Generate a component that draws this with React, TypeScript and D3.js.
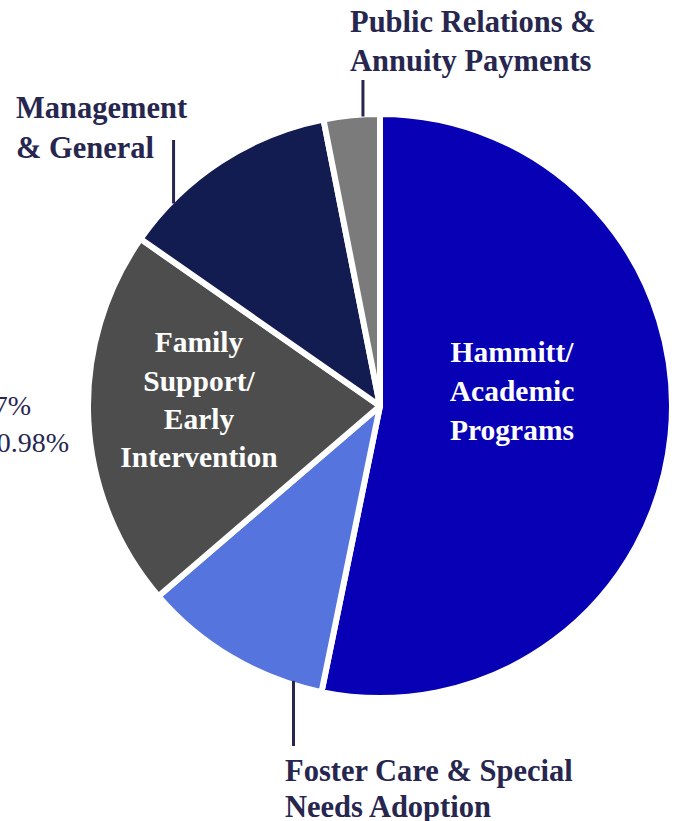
import * as d3 from 'd3';
import React from 'react';

const width = 680;
const height = 821;
const cx = 380;
const cy = 406;
const radius = 292;

// share of expenses, clockwise from 12 o'clock
const categories = [
  'Hammitt/Academic Programs',
  'Foster Care & Special Needs Adoption',
  'Family Support/Early Intervention',
  'Management & General',
  'Public Relations & Annuity Payments',
];
const values = [53.2, 10.5, 20.98, 12.2, 3.1];
const colors = ['#0800b4', '#5574dd', '#4d4d4d', '#121c50', '#7b7b7b'];

const navy = '#26264f';
const font = '"Liberation Serif", "DejaVu Serif", serif';

export default function App() {
  const pie = d3
    .pie<number>()
    .sort(null)
    .value(d => d);
  const arcs = pie(values);
  const arc = d3.arc<d3.PieArcDatum<number>>().innerRadius(0).outerRadius(radius);

  // point on the rim at a fraction of slice i
  const rim = (i: number, f: number) => {
    const a = arcs[i].startAngle + (arcs[i].endAngle - arcs[i].startAngle) * f;
    return [cx + radius * Math.sin(a), cy - radius * Math.cos(a)];
  };
  const pr = rim(4, 0.7);
  const mg = rim(3, 0.23);
  const fc = rim(1, 0.15);

  return (
    <svg width={width} height={height} style={{ position: 'absolute', left: 0, top: 0 }}>
      <g transform={`translate(${cx},${cy})`}>
        {arcs.map((a, i) => (
          <path key={categories[i]} d={arc(a) || ''} fill={colors[i]} stroke="#fff" strokeWidth={6} strokeLinejoin="round" />
        ))}
      </g>

      {/* leader lines */}
      <line x1={pr[0]} x2={pr[0]} y1={80} y2={pr[1] + 2} stroke={navy} strokeWidth={3} />
      <line x1={mg[0]} x2={mg[0]} y1={140} y2={mg[1] + 4} stroke={navy} strokeWidth={3} />
      <line x1={fc[0]} x2={fc[0]} y1={fc[1] - 4} y2={746} stroke={navy} strokeWidth={3} />

      <g fontFamily={font} fontWeight="bold" fontSize={30.5} fill={navy}>
        <text x={350} y={32}>Public Relations &amp;</text>
        <text x={350} y={71}>Annuity Payments</text>
        <text x={16} y={118}>Management</text>
        <text x={16} y={158}>&amp; General</text>
        <text x={285} y={781}>Foster Care &amp; Special</text>
        <text x={285} y={817}>Needs Adoption</text>
      </g>

      <g fontFamily={font} fontSize={28} fill={navy} textAnchor="end">
        <text x={31} y={415}>10.57%</text>
        <text x={69} y={452}>20.98%</text>
      </g>

      <g fontFamily={font} fontWeight="bold" fontSize={29.5} fill="#fff" textAnchor="middle">
        <text x={512} y={362}>Hammitt/</text>
        <text x={512} y={401}>Academic</text>
        <text x={512} y={440}>Programs</text>
        <text x={199} y={352}>Family</text>
        <text x={199} y={391}>Support/</text>
        <text x={199} y={429}>Early</text>
        <text x={199} y={467}>Intervention</text>
      </g>
    </svg>
  );
}
